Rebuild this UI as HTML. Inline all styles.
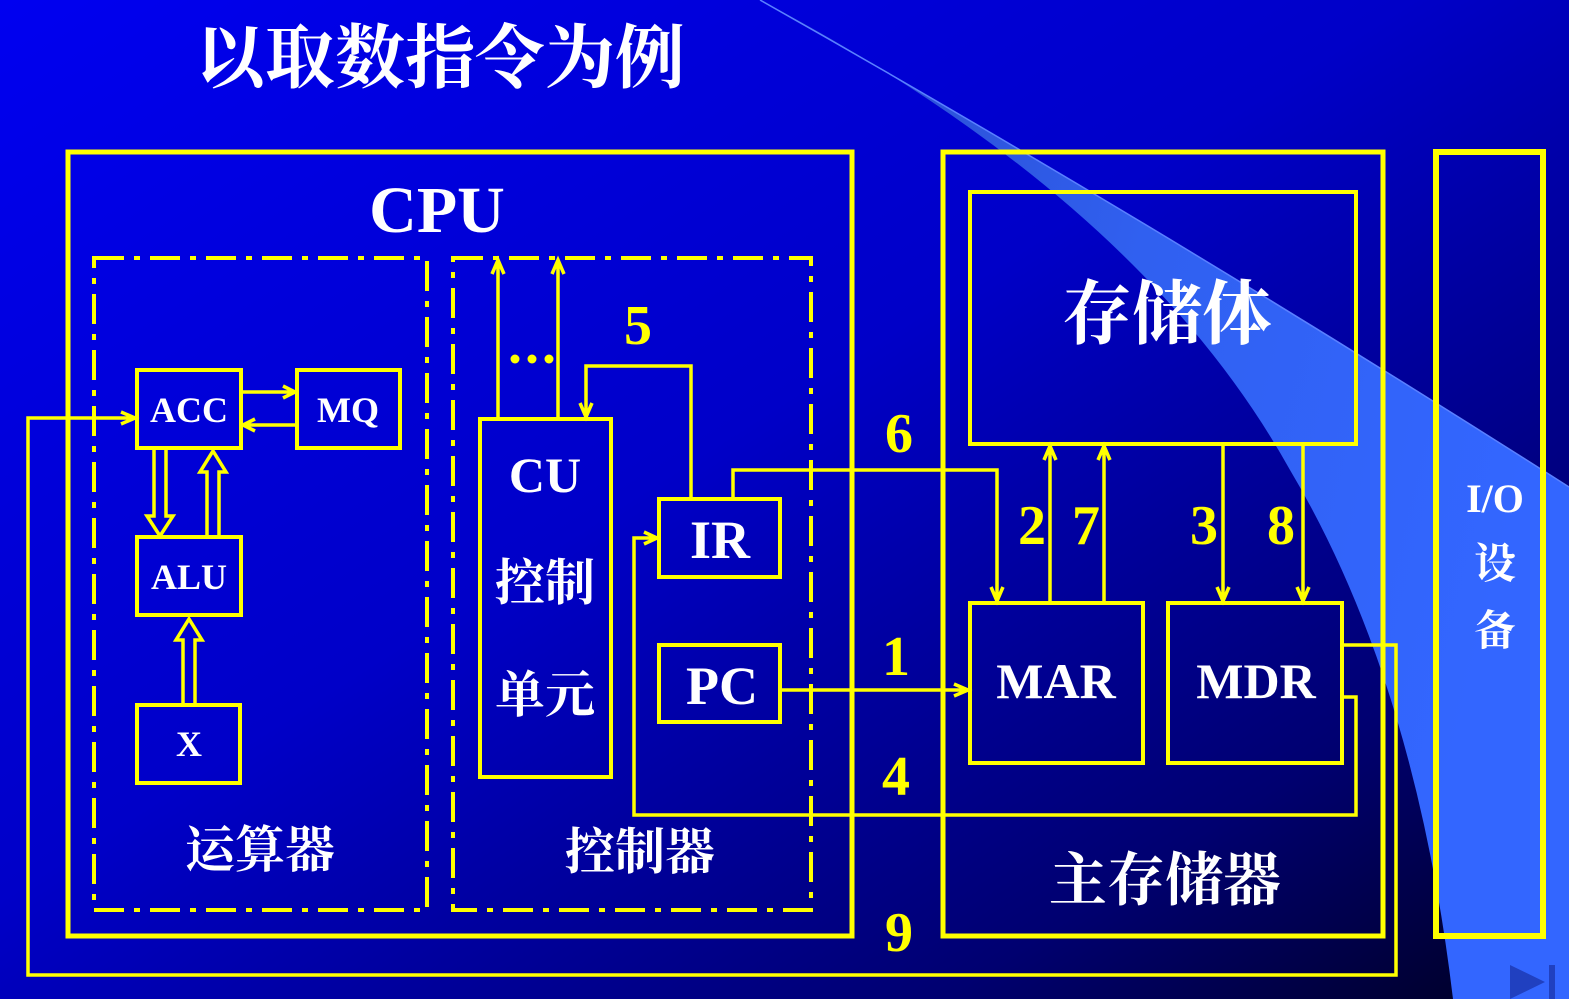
<!DOCTYPE html>
<html><head><meta charset="utf-8"><style>
html,body{margin:0;padding:0;width:1569px;height:999px;overflow:hidden;}
svg{display:block;}
.w{fill:#fff;font-family:"Liberation Serif","Noto Serif CJK SC",serif;font-weight:bold;}
.c{fill:#fff;font-family:"Liberation Serif","Noto Serif CJK SC","Noto Sans CJK SC",serif;font-weight:bold;}
.y{fill:#ffff00;font-family:"Liberation Serif",serif;font-weight:bold;font-size:56px;}
</style></head><body>
<svg width="1569" height="999" viewBox="0 0 1569 999" xmlns="http://www.w3.org/2000/svg">
<defs>
<linearGradient id="bg" x1="0" y1="0" x2="1" y2="1">
<stop offset="0" stop-color="#0000f0"/>
<stop offset="0.45" stop-color="#0000c8"/>
<stop offset="0.8" stop-color="#000070"/>
<stop offset="1" stop-color="#000020"/>
</linearGradient>
<linearGradient id="sw" x1="0" y1="0" x2="1" y2="0.3">
<stop offset="0" stop-color="#2a48c8"/>
<stop offset="0.5" stop-color="#3060f0"/>
<stop offset="1" stop-color="#3366ff"/>
</linearGradient>
</defs>
<rect width="1569" height="999" fill="url(#bg)"/>
<path d="M760,0 Q1150,220 1569,487 L1569,999 L1453,999 Q1415,680 1290,470 Q1140,200 760,0 Z" fill="url(#sw)"/>
<path d="M760,0 Q1150,220 1569,487" fill="none" stroke="#5a80ff" stroke-width="1.5"/>

<text x="195" y="82" class="c" font-size="70" font-weight="normal" textLength="490">以取数指令为例</text>

<g fill="none" stroke="#ffff00">
<rect x="68" y="152" width="784" height="784" stroke-width="5"/>
<g stroke-width="4" stroke-dasharray="30 10 6 10">
<rect x="94" y="258" width="333" height="652"/>
<rect x="453" y="258" width="358" height="652"/>
</g>
<g stroke-width="4">
<rect x="137" y="370" width="104" height="78"/>
<rect x="297" y="370" width="103" height="78"/>
<rect x="137" y="537" width="104" height="78"/>
<rect x="137" y="705" width="103" height="78"/>
<rect x="480" y="419" width="131" height="358"/>
<rect x="659" y="499" width="121" height="78"/>
<rect x="659" y="645" width="121" height="77"/>
<rect x="970" y="192" width="386" height="252"/>
<rect x="970" y="603" width="173" height="160"/>
<rect x="1168" y="603" width="174" height="160"/>
</g>
<rect x="943" y="152" width="440" height="784" stroke-width="5"/>
<rect x="1436" y="152" width="107" height="784" stroke-width="6"/>
<g stroke-width="3.5">
<path d="M241,392 H293 M283,386 L295,392 L283,398"/>
<path d="M297,425 H245 M255,419 L243,425 L255,431"/>
<path d="M154,448 V516 H147 L160,536 L173,516 H166 V448"/>
<path d="M207,537 V472 H200 L213,451 L226,472 H219 V537"/>
<path d="M183,705 V640 H176 L189,619 L202,640 H195 V705"/>
<path d="M1343,645 H1396 V975 H28 V418 H133 M121,412 L135,418 L121,424"/>
<path d="M1343,697 H1356 V815 H634 V538 H655 M644,532 L657,538 L644,544"/>
<path d="M498,419 V262 M492,274 L498,260 L504,274"/>
<path d="M558,419 V262 M552,274 L558,260 L564,274"/>
<path d="M691,499 V366 H586 V415 M580,403 L586,417 L592,403"/>
<path d="M733,499 V470 H997 V599 M991,587 L997,601 L1003,587"/>
<path d="M780,690 H966 M954,684 L968,690 L954,696"/>
<path d="M1050,603 V448 M1044,460 L1050,446 L1056,460"/>
<path d="M1104,603 V448 M1098,460 L1104,446 L1110,460"/>
<path d="M1223,444 V599 M1217,587 L1223,601 L1229,587"/>
<path d="M1303,444 V599 M1297,587 L1303,601 L1309,587"/>
</g>
</g>
<g fill="#ffff00"><circle cx="515" cy="359" r="4.5"/><circle cx="532" cy="359" r="4.5"/><circle cx="549" cy="359" r="4.5"/></g>

<text x="437" y="232" class="w" font-size="66" text-anchor="middle">CPU</text>
<text x="189" y="422" class="w" font-size="36" text-anchor="middle">ACC</text>
<text x="348" y="422" class="w" font-size="36" text-anchor="middle">MQ</text>
<text x="189" y="589" class="w" font-size="36" text-anchor="middle">ALU</text>
<text x="189" y="756" class="w" font-size="36" text-anchor="middle">X</text>
<text x="545" y="492" class="w" font-size="50" text-anchor="middle">CU</text>
<text x="545" y="600" class="c" font-size="50" text-anchor="middle">控制</text>
<text x="545" y="712" class="c" font-size="50" text-anchor="middle">单元</text>
<text x="720" y="558" class="w" font-size="54" text-anchor="middle">IR</text>
<text x="722" y="704" class="w" font-size="54" text-anchor="middle">PC</text>
<text x="1056" y="698" class="w" font-size="50" text-anchor="middle">MAR</text>
<text x="1256" y="698" class="w" font-size="50" text-anchor="middle">MDR</text>
<text x="1167" y="338" class="c" font-size="70" text-anchor="middle">存储体</text>
<text x="1165" y="900" class="c" font-size="58" text-anchor="middle">主存储器</text>
<text x="260" y="867" class="c" font-size="50" text-anchor="middle">运算器</text>
<text x="640" y="869" class="c" font-size="50" text-anchor="middle">控制器</text>
<text x="1495" y="512" class="w" font-size="40" text-anchor="middle">I/O</text>
<text x="1495" y="578" class="c" font-size="42" font-weight="normal" text-anchor="middle">设</text>
<text x="1495" y="645" class="c" font-size="42" font-weight="normal" text-anchor="middle">备</text>

<text x="638" y="344" class="y" text-anchor="middle">5</text>
<text x="899" y="452" class="y" text-anchor="middle">6</text>
<text x="896" y="675" class="y" text-anchor="middle">1</text>
<text x="896" y="795" class="y" text-anchor="middle">4</text>
<text x="899" y="951" class="y" text-anchor="middle">9</text>
<text x="1032" y="544" class="y" text-anchor="middle">2</text>
<text x="1086" y="544" class="y" text-anchor="middle">7</text>
<text x="1204" y="544" class="y" text-anchor="middle">3</text>
<text x="1281" y="544" class="y" text-anchor="middle">8</text>

<path d="M1510,965 L1545,982 L1510,999 Z" fill="#2040c0"/>
<rect x="1549" y="965" width="6" height="34" fill="#2040c0"/>
</svg>
</body></html>
